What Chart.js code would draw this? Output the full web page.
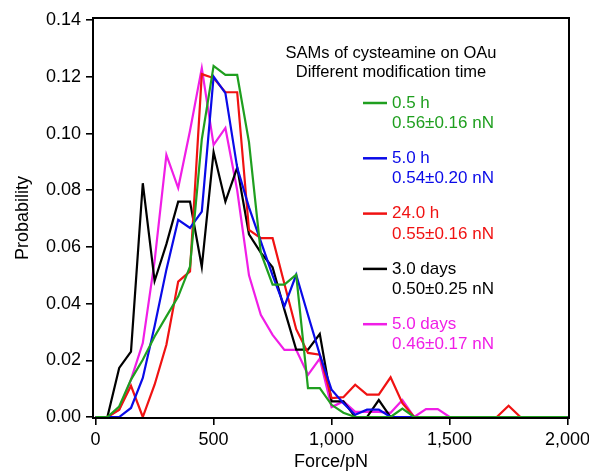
<!DOCTYPE html>
<html>
<head>
<meta charset="utf-8">
<script src="https://cdn.jsdelivr.net/npm/chart.js@4.4.1/dist/chart.umd.min.js"></script>
<style>
  html, body { margin: 0; padding: 0; background: #fff; }
  canvas { display: block; }
</style>
</head>
<body>
<canvas id="chart" width="589" height="473"></canvas>
<script>
// histogram bin centres, pN
const forceBins = [
  0, 50, 100, 150, 200, 250, 300, 350, 400, 450,
  500, 550, 600, 650, 700, 750, 800, 850, 900, 950,
  1000, 1050, 1100, 1150, 1200, 1250, 1300, 1350, 1400, 1450,
  1500, 1550, 1600, 1650, 1700, 1750, 1800, 1850, 1900, 1950, 2000
];

const prob05h = [
  0, 0, 0.0037, 0.0132, 0.0202, 0.0284, 0.0355, 0.0425, 0.0531, 0.098,
  0.1239, 0.1207, 0.1207, 0.097, 0.058, 0.0467, 0.0467, 0.0502, 0.0102, 0.0102,
  0.0043, 0.0015, 0, 0, 0, 0, 0.003, 0, 0, 0,
  0, 0, 0, 0, 0, 0, 0, 0, 0, 0, 0
];
const prob5h = [
  0, 0, 0, 0.0032, 0.0138, 0.032, 0.052, 0.0696, 0.0667, 0.0725,
  0.1201, 0.1143, 0.088, 0.074, 0.062, 0.05, 0.039, 0.0502, 0.036, 0.022,
  0.0096, 0.0049, 0.0008, 0.0026, 0.0026, 0, 0, 0, 0, 0,
  0, 0, 0, 0, 0, 0, 0, 0, 0, 0, 0
];
const prob24h = [
  0, 0, 0.0026, 0.011, 0, 0.0114, 0.0255, 0.0478, 0.0514, 0.121,
  0.1196, 0.1146, 0.1146, 0.066, 0.0631, 0.0631, 0.047, 0.031, 0.0226, 0.022,
  0.0067, 0.007, 0.0114, 0.0079, 0.0079, 0.014, 0.0049, 0, 0, 0,
  0, 0, 0, 0, 0, 0.004, 0, 0, 0, 0, 0
];
const prob3d = [
  0, 0, 0.0173, 0.0231, 0.0825, 0.048, 0.061, 0.076, 0.076, 0.053,
  0.0935, 0.076, 0.088, 0.0645, 0.058, 0.0528, 0.0379, 0.0238, 0.0238, 0.0293,
  0.0055, 0.0055, 0, 0, 0.006, 0, 0, 0, 0, 0,
  0, 0, 0, 0, 0, 0, 0, 0, 0, 0, 0
];
const prob5d = [
  0, 0, 0.0026, 0.0132, 0.0261, 0.055, 0.0925, 0.0808, 0.101, 0.1231,
  0.096, 0.102, 0.08, 0.05, 0.0361, 0.029, 0.0237, 0.0237, 0.0149, 0.0206,
  0.0035, 0.0055, 0.0018, 0.0018, 0.0018, 0.0015, 0.006, 0, 0.0028, 0.0028,
  0, 0, 0, 0, 0, 0, 0, 0, 0, 0, 0
];

const seriesNames = ['0.5 h', '5.0 h', '24.0 h', '3.0 days', '5.0 days'];
const seriesStats = ['0.56\u00b10.16 nN', '0.54\u00b10.20 nN', '0.55\u00b10.16 nN', '0.50\u00b10.25 nN', '0.46\u00b10.17 nN'];
const seriesColors = ['#1f9f1f', '#0a0ae8', '#f01212', '#000000', '#f01ee6'];
const seriesValues = [prob05h, prob5h, prob24h, prob3d, prob5d];

const xTickValues = [0, 500, 1000, 1500, 2000];
const yTickValues = [0, 0.02, 0.04, 0.06, 0.08, 0.10, 0.12, 0.14];

const legendHeader = ['SAMs of cysteamine on OAu', 'Different modification time'];

const FONT = '"Liberation Sans", Arial, Helvetica, sans-serif';

// box round the plot area
const frame = {
  id: 'frame',
  afterDatasetsDraw(chart) {
    const { ctx, chartArea: a } = chart;
    ctx.save();
    ctx.strokeStyle = '#000';
    ctx.lineWidth = 2;
    ctx.strokeRect(a.left, a.top, a.right - a.left, a.bottom - a.top);
    ctx.restore();
  }
};

// header + two-line legend entries in the upper right
const sideLegend = {
  id: 'sideLegend',
  afterDraw(chart) {
    const { ctx } = chart;
    ctx.save();
    ctx.textBaseline = 'middle';
    ctx.fillStyle = '#000';
    ctx.font = '16.5px ' + FONT;
    ctx.textAlign = 'center';
    ctx.fillText(legendHeader[0], 391, 53);
    ctx.fillText(legendHeader[1], 391, 72);

    ctx.textAlign = 'left';
    ctx.font = '17px ' + FONT;
    chart.data.datasets.forEach((ds, i) => {
      const y = 103 + i * 55.3;
      ctx.strokeStyle = ds.borderColor;
      ctx.lineWidth = 2.5;
      ctx.beginPath();
      ctx.moveTo(363, y);
      ctx.lineTo(387, y);
      ctx.stroke();
      ctx.fillStyle = ds.borderColor;
      ctx.fillText(ds.label, 392, y);
      ctx.fillText(seriesStats[i], 392, y + 20.5);
    });
    ctx.restore();
  }
};

const datasets = seriesNames.map((name, i) => ({
  label: name,
  data: forceBins.map((f, j) => ({ x: f, y: seriesValues[i][j] })),
  borderColor: seriesColors[i],
  backgroundColor: seriesColors[i],
  borderWidth: 2.2,
  pointRadius: 0,
  tension: 0,
  fill: false
}));

new Chart(document.getElementById('chart'), {
  type: 'line',
  data: { datasets },
  options: {
    responsive: false,
    animation: false,
    devicePixelRatio: 1,
    layout: { padding: { top: 18, right: 20, left: 0, bottom: 0 } },
    plugins: {
      legend: { display: false },
      tooltip: { enabled: false }
    },
    scales: {
      x: {
        type: 'linear',
        min: -11,
        max: 2006,
        afterBuildTicks: s => { s.ticks = xTickValues.map(v => ({ value: v })); },
        // keep the last label from squeezing the plot; it may run off the edge
        afterFit: s => { s.height = 55; s.paddingLeft = 0; s.paddingRight = 0; },
        ticks: {
          color: '#000',
          font: { family: FONT, size: 18 },
          padding: 4,
          maxRotation: 0,
          callback: v => v.toLocaleString('en-US')
        },
        grid: { drawOnChartArea: false, drawTicks: true, tickLength: 7, color: '#000', lineWidth: 1.6 },
        border: { display: true, color: '#000', width: 2 },
        title: {
          display: true,
          text: 'Force/pN',
          color: '#000',
          font: { family: FONT, size: 18 },
          padding: { top: 0, bottom: 0 }
        }
      },
      y: {
        min: -0.00035,
        max: 0.1408,
        afterBuildTicks: s => { s.ticks = yTickValues.map(v => ({ value: v })); },
        afterFit: s => { s.width = 93; s.paddingTop = 0; s.paddingBottom = 0; },
        ticks: {
          color: '#000',
          font: { family: FONT, size: 18 },
          padding: 5,
          callback: v => v.toFixed(2)
        },
        grid: { drawOnChartArea: false, drawTicks: true, tickLength: 7, color: '#000', lineWidth: 1.6 },
        border: { display: true, color: '#000', width: 2 },
        title: {
          display: true,
          text: 'Probability',
          color: '#000',
          font: { family: FONT, size: 18 },
          padding: { top: 12, bottom: 0 }
        }
      }
    }
  },
  plugins: [frame, sideLegend]
});
</script>
</body>
</html>
